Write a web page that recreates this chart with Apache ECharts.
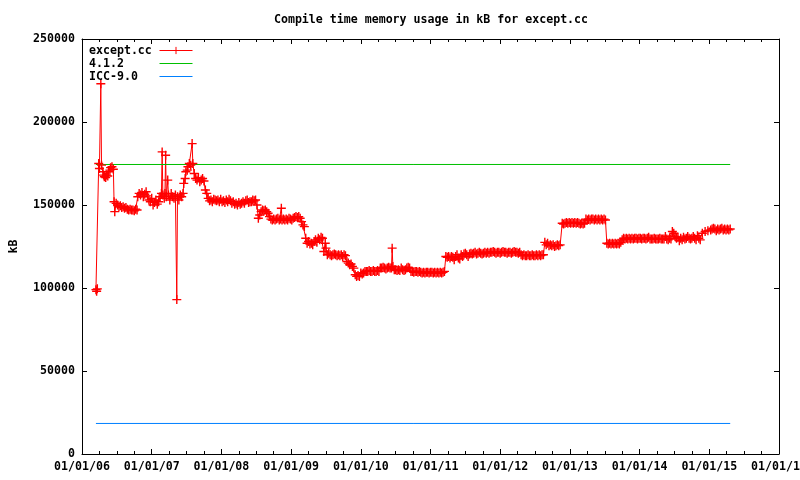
<!DOCTYPE html>
<html><head><meta charset="utf-8">
<script src="https://cdn.jsdelivr.net/npm/echarts@6/dist/echarts.min.js"></script>
<style>html,body{margin:0;padding:0;background:#fff}#c{width:800px;height:480px}</style>
</head><body><div id="c"></div>
<script>
// Dates as decimal years, memory in kB
const exceptYears = [
2006.20,2006.21,2006.22,2006.24,2006.25,2006.27,2006.28,2006.30,2006.31,2006.32,
2006.34,2006.35,2006.37,2006.38,2006.40,2006.41,2006.43,2006.45,2006.46,2006.47,
2006.49,2006.51,2006.53,2006.55,2006.57,2006.59,2006.61,2006.63,2006.65,2006.67,
2006.69,2006.71,2006.73,2006.75,2006.77,2006.79,2006.80,2006.82,2006.84,2006.86,
2006.88,2006.90,2006.92,2006.94,2006.96,2006.98,2007.00,2007.02,2007.04,2007.06,
2007.08,2007.10,2007.12,2007.14,2007.15,2007.16,2007.18,2007.19,2007.20,2007.21,
2007.23,2007.24,2007.26,2007.28,2007.30,2007.32,2007.34,2007.36,2007.37,2007.39,
2007.41,2007.43,2007.45,2007.46,2007.48,2007.49,2007.51,2007.52,2007.54,2007.56,
2007.58,2007.59,2007.61,2007.63,2007.65,2007.67,2007.69,2007.71,2007.73,2007.75,
2007.77,2007.79,2007.81,2007.83,2007.85,2007.87,2007.89,2007.91,2007.93,2007.95,
2007.97,2007.99,2008.01,2008.03,2008.05,2008.07,2008.09,2008.11,2008.13,2008.15,
2008.17,2008.19,2008.21,2008.23,2008.25,2008.27,2008.29,2008.31,2008.33,2008.35,
2008.37,2008.39,2008.41,2008.43,2008.45,2008.47,2008.49,2008.51,2008.53,2008.55,
2008.57,2008.59,2008.61,2008.63,2008.65,2008.67,2008.69,2008.71,2008.73,2008.75,
2008.77,2008.79,2008.81,2008.83,2008.85,2008.86,2008.87,2008.89,2008.91,2008.93,
2008.95,2008.97,2008.99,2009.01,2009.03,2009.05,2009.07,2009.09,2009.11,2009.13,
2009.15,2009.17,2009.19,2009.21,2009.23,2009.25,2009.27,2009.29,2009.31,2009.33,
2009.35,2009.37,2009.39,2009.41,2009.43,2009.45,2009.47,2009.49,2009.50,2009.52,
2009.54,2009.56,2009.58,2009.60,2009.62,2009.64,2009.66,2009.68,2009.70,2009.72,
2009.74,2009.76,2009.78,2009.80,2009.82,2009.84,2009.86,2009.88,2009.90,2009.92,
2009.94,2009.96,2009.98,2010.00,2010.02,2010.04,2010.06,2010.08,2010.10,2010.12,
2010.14,2010.16,2010.18,2010.20,2010.22,2010.24,2010.26,2010.28,2010.30,2010.32,
2010.34,2010.36,2010.38,2010.40,2010.42,2010.44,2010.45,2010.46,2010.48,2010.50,
2010.52,2010.54,2010.56,2010.58,2010.60,2010.62,2010.64,2010.66,2010.68,2010.70,
2010.72,2010.74,2010.76,2010.78,2010.80,2010.82,2010.84,2010.86,2010.88,2010.90,
2010.92,2010.94,2010.96,2010.98,2011.00,2011.02,2011.04,2011.06,2011.08,2011.10,
2011.12,2011.14,2011.16,2011.18,2011.20,2011.22,2011.24,2011.26,2011.28,2011.30,
2011.32,2011.34,2011.36,2011.38,2011.40,2011.42,2011.44,2011.46,2011.48,2011.50,
2011.52,2011.54,2011.56,2011.58,2011.60,2011.62,2011.64,2011.66,2011.68,2011.70,
2011.72,2011.74,2011.76,2011.78,2011.80,2011.82,2011.84,2011.86,2011.88,2011.90,
2011.92,2011.94,2011.96,2011.98,2012.00,2012.02,2012.04,2012.06,2012.08,2012.10,
2012.12,2012.14,2012.16,2012.18,2012.20,2012.22,2012.24,2012.26,2012.28,2012.30,
2012.32,2012.34,2012.36,2012.38,2012.40,2012.42,2012.44,2012.46,2012.48,2012.50,
2012.52,2012.54,2012.56,2012.58,2012.60,2012.62,2012.64,2012.66,2012.68,2012.70,
2012.72,2012.74,2012.76,2012.78,2012.80,2012.82,2012.84,2012.86,2012.89,2012.91,
2012.93,2012.95,2012.97,2012.99,2013.01,2013.03,2013.05,2013.07,2013.09,2013.11,
2013.13,2013.15,2013.17,2013.19,2013.21,2013.23,2013.25,2013.27,2013.29,2013.31,
2013.33,2013.35,2013.37,2013.39,2013.41,2013.43,2013.45,2013.47,2013.49,2013.51,
2013.53,2013.55,2013.57,2013.59,2013.61,2013.63,2013.65,2013.67,2013.69,2013.71,
2013.73,2013.75,2013.77,2013.79,2013.81,2013.83,2013.85,2013.87,2013.89,2013.91,
2013.93,2013.95,2013.97,2013.99,2014.01,2014.03,2014.05,2014.07,2014.09,2014.11,
2014.13,2014.15,2014.17,2014.19,2014.21,2014.23,2014.25,2014.27,2014.29,2014.31,
2014.33,2014.35,2014.37,2014.39,2014.41,2014.43,2014.45,2014.47,2014.49,2014.51,
2014.53,2014.55,2014.57,2014.59,2014.61,2014.63,2014.65,2014.67,2014.69,2014.71,
2014.73,2014.75,2014.77,2014.79,2014.81,2014.83,2014.85,2014.87,2014.90,2014.94,
2014.98,2015.02,2015.04,2015.06,2015.08,2015.10,2015.12,2015.14,2015.16,2015.18,
2015.20,2015.22,2015.24,2015.26,2015.28,2015.30
];
const exceptKB = [
99000,98000,99500,175000,172000,223000,174000,170000,168000,167000,
166500,168000,167500,170000,171000,172500,173000,171500,152000,146000,
151000,150000,149000,149500,148500,149000,148000,148500,147500,147000,
147500,147000,147000,146500,147500,147000,155000,157000,156000,157500,
155000,156500,158000,155500,153000,152000,154000,150000,151500,153000,
150500,152000,155000,157000,182000,156000,154000,157000,180000,155000,
165000,156000,153000,157000,155000,154000,156000,93000,155000,153000,
156000,155000,157000,163000,166000,170000,171000,173000,175000,174000,
187000,175000,169000,166000,165000,166500,164000,165000,166000,164500,
159000,157000,154000,152500,153000,152000,153500,153000,152500,153000,
152000,153500,152000,152500,151500,153000,152000,153500,152500,151000,
152000,150500,151000,150000,151500,150500,151000,152000,151000,152500,
153000,151500,152000,152000,153000,152500,153000,150000,142000,144000,
146000,147000,146500,147000,146000,145000,143000,141500,141000,141500,
141000,141500,142000,141000,141500,148000,141000,141500,141000,141500,
141000,142000,141500,141000,142000,142500,143000,142500,143000,142000,
140000,138000,137000,130000,127000,128000,126500,127000,126000,128000,
129000,127500,130000,129000,130500,130000,122000,127000,124000,120000,
121000,120000,119500,120000,120500,120000,119500,120000,119500,120000,
119000,120000,119500,116000,115000,114000,114500,113000,112000,108000,
107000,107500,107000,109000,108500,109000,110000,110000,110000,110500,
110000,110000,110500,110000,110000,110500,110000,112000,112000,112500,
112000,111500,112000,112500,112000,112000,124000,113000,111000,111000,
110500,111000,110500,112000,111000,110500,111000,112000,112500,112000,
110000,110000,109500,110000,110000,109500,110000,109500,109000,109500,
109000,109500,109500,109000,109500,109500,109000,109500,109000,109500,
109000,109500,109000,109500,110000,119000,118500,119000,118000,119000,
118500,117000,119000,120000,118000,117500,120000,119000,120500,121000,
120000,119000,120500,121000,120500,121000,121500,120500,121000,121500,
121000,120500,121000,121500,121000,121500,121000,121500,121500,122000,
121500,121000,121500,121500,121000,121500,122000,121500,121500,121000,
121500,121500,121000,121500,122000,121500,121500,121000,121500,120000,
119500,120000,119500,119500,120000,119500,119500,120000,119500,119500,
120000,119500,120000,119500,120000,120000,127500,126000,127000,125500,
126000,125500,126000,125000,125500,126000,125500,126000,139000,138500,
139000,139500,139000,139500,139000,139500,139000,139500,139000,139500,
139000,138500,139000,138500,139000,141500,141000,141500,141000,141500,
141500,141000,141500,141000,141500,141000,141500,141000,141500,141000,
127000,126500,127000,126500,127000,126500,127000,126500,127000,126500,
127500,129000,130000,129500,130000,129500,130000,129500,130000,129500,
130000,130000,129500,130000,130000,129500,130000,130000,129500,130000,
130500,129500,129500,129500,130000,129500,129500,129500,130000,129500,
129500,129500,131000,129500,129000,130000,129500,134000,133000,131000,
130000,130500,128500,130000,129000,130500,129500,130000,131000,130000,
129500,130000,131000,130000,129000,131500,130000,129000,133000,134000,
134500,135000,135500,136000,135500,134500,135500,135000,135500,136000,
135000,135500,135000,135500,135000,135500
];
const refYears = [2006.20, 2015.30];
const gcc412KB = [174400, 174400];
const icc90KB = [18400, 18400];
const seriesNames = ['except.cc', '4.1.2', 'ICC-9.0'];
const titleText = 'Compile time memory usage in kB for except.cc';

const FONT = 'DejaVu Sans Mono';
const txt = { fontFamily: FONT, fontWeight: 'bold', fontSize: 11.6, color: '#000' };
const black = { color: '#000', width: 1 };

function xAxisCfg(pos, showLabel) {
  return {
    type: 'value', position: pos, min: 2006, max: 2016, interval: 1,
    axisLine: { show: true, onZero: false, lineStyle: black },
    axisTick: { show: true, inside: true, length: 5, lineStyle: black },
    minorTick: { show: true, splitNumber: 4, length: 3, lineStyle: black },
    splitLine: { show: false }, minorSplitLine: { show: false },
    axisLabel: {
      show: showLabel, ...txt, margin: 7, showMinLabel: true, showMaxLabel: true,
      hideOverlap: false,
      formatter: v => '01/01/' + String(Math.round(v) % 100).padStart(2, '0')
    }
  };
}
function yAxisCfg(pos, showLabel) {
  const c = {
    type: 'value', position: pos, min: 0, max: 250000, interval: 50000,
    axisLine: { show: true, onZero: false, lineStyle: black },
    axisTick: { show: true, inside: true, length: 5, lineStyle: black },
    splitLine: { show: false },
    axisLabel: { show: showLabel, ...txt, margin: 7, formatter: v => String(v) }
  };
  if (showLabel) {
    c.name = 'kB'; c.nameLocation = 'middle'; c.nameGap = 62; c.nameRotate = 90;
    c.nameTextStyle = { ...txt };
  }
  return c;
}

const chart = echarts.init(document.getElementById('c'), null, { renderer: 'canvas' });
chart.setOption({
  animation: false,
  backgroundColor: '#fff',
  title: {
    text: titleText, left: 426, top: 9, textAlign: 'center',
    textStyle: { ...txt }
  },
  legend: [
    { // key texts, left-justified
      orient: 'vertical', left: 78, top: 39,
      itemWidth: 0, itemHeight: 9, itemGap: 0, icon: 'rect',
      itemStyle: { opacity: 0 }, lineStyle: { opacity: 0 },
      textStyle: { ...txt, lineHeight: 13 },
      data: seriesNames
    },
    { // key samples, aligned in a column after the texts
      orient: 'vertical', left: 154, top: 39,
      itemWidth: 33, itemHeight: 9, itemGap: 0,
      lineStyle: { width: 1 },
      textStyle: { ...txt, lineHeight: 13, color: 'rgba(0,0,0,0)' },
      data: [
        { name: seriesNames[0], itemStyle: { borderWidth: 1 } },
        { name: seriesNames[1], itemStyle: { opacity: 0 } },
        { name: seriesNames[2], itemStyle: { opacity: 0 } }
      ]
    }
  ],
  grid: { left: 82, right: 21, top: 39, bottom: 26, containLabel: false, outerBoundsMode: 'none' },
  xAxis: [xAxisCfg('bottom', true), xAxisCfg('top', false)],
  yAxis: [yAxisCfg('left', true), yAxisCfg('right', false)],
  series: [
    {
      name: seriesNames[0], type: 'line', xAxisIndex: 0, yAxisIndex: 0,
      data: exceptYears.map((x, i) => [x, exceptKB[i]]),
      symbol: 'path://M0,5L10,5M5,0L5,10', symbolSize: 9, showSymbol: true,
      itemStyle: { color: '#ff0000', borderColor: '#ff0000', borderWidth: 1.4 },
      lineStyle: { color: '#ff0000', width: 1 },
      emphasis: { disabled: true }
    },
    {
      name: seriesNames[1], type: 'line', xAxisIndex: 0, yAxisIndex: 0,
      data: refYears.map((x, i) => [x, gcc412KB[i]]),
      symbol: 'none', itemStyle: { color: '#00c000' },
      lineStyle: { color: '#00c000', width: 1 }, emphasis: { disabled: true }
    },
    {
      name: seriesNames[2], type: 'line', xAxisIndex: 0, yAxisIndex: 0,
      data: refYears.map((x, i) => [x, icc90KB[i]]),
      symbol: 'none', itemStyle: { color: '#0080ff' },
      lineStyle: { color: '#0080ff', width: 1 }, emphasis: { disabled: true }
    }
  ]
});
</script>
</body></html>
